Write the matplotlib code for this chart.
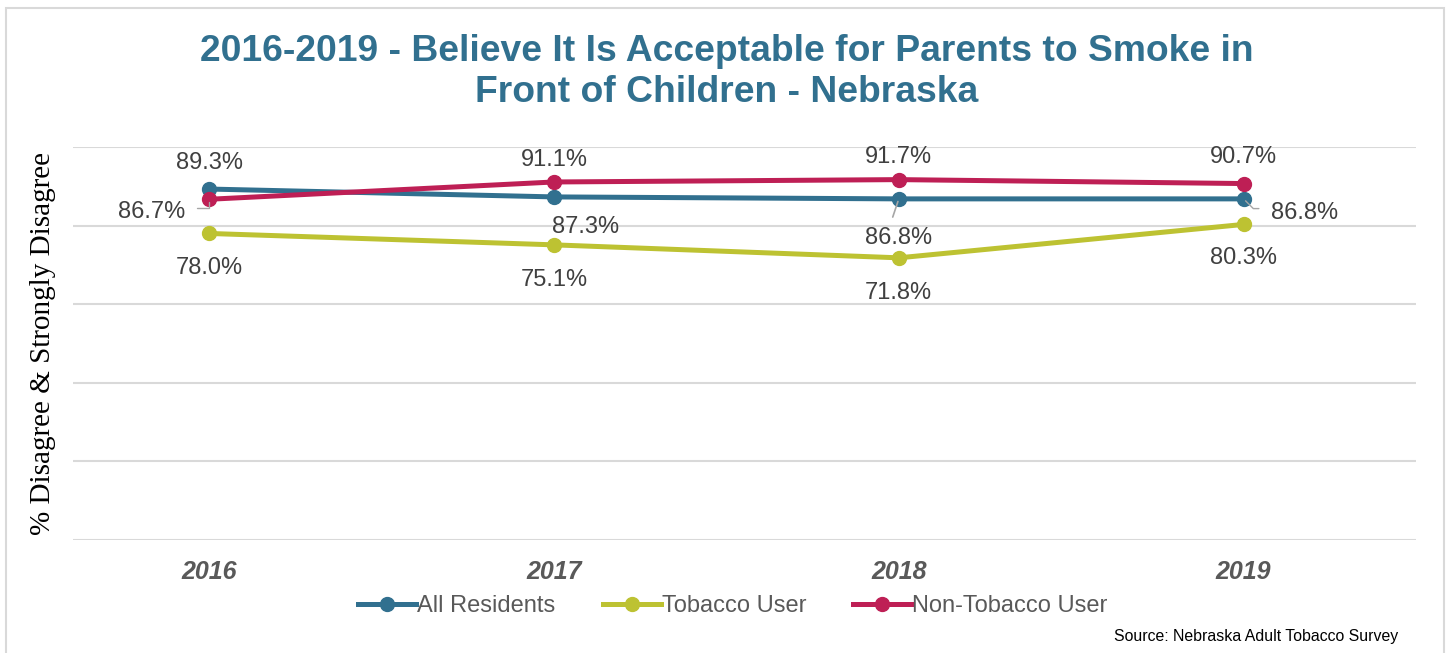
import numpy as np
import matplotlib.pyplot as plt
from matplotlib.patches import Rectangle

years = ["2016", "2017", "2018", "2019"]
all_residents = [89.3, 87.3, 86.8, 86.8]
tobacco_user = [78.0, 75.1, 71.8, 80.3]
non_tobacco_user = [86.7, 91.1, 91.7, 90.7]

c_all = "#31708F"
c_tob = "#BDC232"
c_non = "#BE1F55"
txt = "#404040"

plt.rcParams['font.family'] = ['Liberation Sans', 'DejaVu Sans']

fig = plt.figure(figsize=(14.51, 6.53), dpi=100)
fig.patches.append(Rectangle((6 / 1451, -0.1), 1438 / 1451, 1 - 8 / 653 + 0.1,
                             transform=fig.transFigure, fill=False,
                             edgecolor="#D9D9D9", linewidth=1.5))

ax = fig.add_axes([73 / 1451, 1 - 540 / 653, (1416 - 73) / 1451, (540 - 147) / 653])
x = np.arange(len(years))

ax.plot(x, all_residents, color=c_all, lw=3.6, marker="o", ms=10, label="All Residents", zorder=3)
ax.plot(x, tobacco_user, color=c_tob, lw=3.6, marker="o", ms=10, label="Tobacco User", zorder=3)
ax.plot(x, non_tobacco_user, color=c_non, lw=3.6, marker="o", ms=10, label="Non-Tobacco User", zorder=3)

ax.set_ylim(0, 100)
ax.set_xlim(-0.395, 3.5)
ax.set_yticks(np.arange(0, 101, 20))
ax.yaxis.grid(True, color="#D9D9D9", lw=1.5)
ax.set_axisbelow(True)
ax.tick_params(axis="y", left=False, labelleft=False)
ax.tick_params(axis="x", bottom=False, pad=11)
ax.set_xticks(x)
ax.set_xticklabels(years, fontsize=18, fontweight="bold", fontstyle="italic", color="#595959")
for s in ax.spines.values():
    s.set_visible(False)

fs = 17
def lab(i, v, text, dx, dy, ha="center"):
    ax.annotate(text, (i, v), xytext=(dx, dy), textcoords="offset points",
                ha=ha, va="center", fontsize=fs, color=txt)

# All Residents
lab(0, all_residents[0], "89.3%", 0, 19)
lab(1, all_residents[1], "87.3%", 23, -22)
lab(2, all_residents[2], "86.8%", 0, -28)
lab(3, all_residents[3], "86.8%", 20, -10, ha="left")
# Tobacco
lab(0, tobacco_user[0], "78.0%", 0, -25)
lab(1, tobacco_user[1], "75.1%", 0, -25)
lab(2, tobacco_user[2], "71.8%", 0, -25)
lab(3, tobacco_user[3], "80.3%", 0, -24)
# Non-tobacco
lab(0, non_tobacco_user[0], "86.7%", -17, -9, ha="right")
lab(1, non_tobacco_user[1], "91.1%", 0, 16)
lab(2, non_tobacco_user[2], "91.7%", 0, 16)
lab(3, non_tobacco_user[3], "90.7%", 0, 19)

# leader lines
ax.annotate("", (0, non_tobacco_user[0]), xytext=(-11, -6), textcoords="offset points",
            arrowprops=dict(arrowstyle="-", color="#A6A6A6", lw=1, connectionstyle="angle,angleA=0,angleB=90"))
ax.annotate("", (3, all_residents[3]), xytext=(13, -7), textcoords="offset points",
            arrowprops=dict(arrowstyle="-", color="#A6A6A6", lw=1, connectionstyle="angle,angleA=0,angleB=135"))
ax.annotate("", (2, all_residents[2]), xytext=(-5, -15), textcoords="offset points",
            arrowprops=dict(arrowstyle="-", color="#A6A6A6", lw=1.2))

ax.set_ylabel("% Disagree & Strongly Disagree", family="Liberation Serif", fontsize=21,
              color="black", labelpad=12)

fig.text(0.501, 1 - 72 / 653, "2016-2019 - Believe It Is Acceptable for Parents to Smoke in\nFront of Children - Nebraska",
         ha="center", va="center", fontsize=26.8, fontweight="bold", color=c_all, linespacing=1.2)

leg = fig.legend(loc="center", bbox_to_anchor=(733 / 1451, 1 - 606 / 653), ncol=3, frameon=False,
                 fontsize=17, handlelength=2.45, handletextpad=0.05, columnspacing=2.0)
for t in leg.get_texts():
    t.set_color("#595959")

fig.text(1398 / 1451, 1 - 636 / 653, "Source: Nebraska Adult Tobacco Survey", ha="right", va="center",
         fontsize=11.4, color="black")

fig.savefig("out.png", dpi=100)
